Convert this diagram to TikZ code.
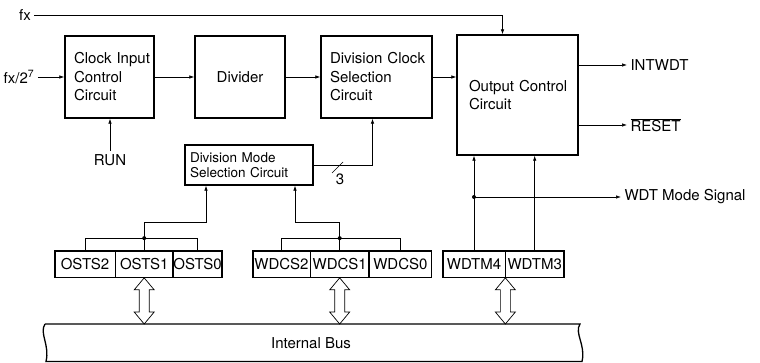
\documentclass[tikz,border=0pt]{standalone}
\usepackage{fontspec}
\setmainfont{TeX Gyre Heros}
\usetikzlibrary{positioning,calc,arrows.meta}
\hyphenpenalty=10000
\exhyphenpenalty=10000

% hollow double arrow between a register and the bus
\newcommand{\busarrow}[2]{%
  \draw[line width=0.7pt] let \p1=(#1), \p2=(#1 |- #2) in
    (\x1,\y1) -- (\x1+10pt,\y1-12pt) -- (\x1+5pt,\y1-12pt) -- (\x1+5pt,\y2+12pt)
    -- (\x1+10pt,\y2+12pt) -- (\x1,\y2) -- (\x1-10pt,\y2+12pt) -- (\x1-5pt,\y2+12pt)
    -- (\x1-5pt,\y1-12pt) -- (\x1-10pt,\y1-12pt) -- cycle;}

\begin{document}
\begin{tikzpicture}[x=1pt, y=-1pt,
  every node/.style={font=\fontsize{15}{18.5}\selectfont},
  blk/.style={draw, line width=1.3pt, inner sep=9pt, align=left, minimum height=82pt},
  cell/.style={draw, line width=0.7pt, minimum height=26pt, inner sep=0pt},
  sig/.style={line width=0.7pt, -{Latex[length=5pt,width=3.5pt]}},
  wire/.style={line width=0.7pt},
  dot/.style={circle, fill, inner sep=0pt, minimum size=4pt}]

\useasboundingbox (0,0) rectangle (760,363);

% blocks
\node[blk, text width=71pt] (clk) at (109.5,77) {Clock~Input\\Control\\Circuit};
\node[blk, minimum width=90pt, align=center] (div) at (240,77) {Divider};
\node[blk, text width=93pt] (dcs) at (376.5,77) {Division~Clock\\Selection\\Circuit};
\node[blk, text width=97pt, inner xsep=12pt, minimum height=120pt] (occ) at (517.5,95) {Output~Control\\Circuit};
\node[draw, line width=1.3pt, inner xsep=5pt, text width=118pt, minimum height=40pt, align=left,
  font=\fontsize{13.5}{15}\selectfont] (dms) at (249,165) {Division~Mode\\Selection~Circuit};

% inputs and outputs
\node (fx) at (25,15) {fx};
\node (fx7) at (19,77) {fx/2\textsuperscript{7}};
\node (run) at (110,160) {RUN};
\node[anchor=west] (intwdt) at (627,65) {INTWDT};
\node[anchor=west] (reset) at (627,125) {$\overline{\hbox{RESET}}$};
\node[anchor=west] (wms) at (621,197) {WDT Mode Signal};

\draw[sig] (fx) -| ([xshift=-15pt]occ.north);
\draw[sig] (fx7) -- (clk);
\draw[sig] (clk) -- (div);
\draw[sig] (div) -- (dcs);
\draw[sig] (dcs.east) -- (dcs.east -| occ.west);
\draw[sig] (run) -- (run |- clk.south);
\draw[sig] (occ.east |- intwdt) -- (intwdt);
\draw[sig] (occ.east |- reset) -- (reset);
\draw[sig] (dms.east) -| ([xshift=-4pt]dcs.south);
\coordinate (sl) at (338,167);
\draw[wire] ($(sl)+(-6,6)$) -- ($(sl)+(5,-5)$);
\node[inner sep=1pt] (three) at ($(sl)+(2,12)$) {3};

% registers
\node[cell, minimum width=60pt] (osts2) at (85,264.5) {OSTS2};
\node[cell, minimum width=57pt, right=0pt of osts2] (osts1) {OSTS1};
\node[cell, minimum width=48pt, right=0pt of osts1] (osts0) {OSTS0};
\draw[line width=1.3pt] (osts2.north west) rectangle (osts0.south east);

\node[cell, minimum width=57pt] (wdcs2) at (281.5,264.5) {WDCS2};
\node[cell, minimum width=58pt, right=0pt of wdcs2] (wdcs1) {WDCS1};
\node[cell, minimum width=62pt, right=0pt of wdcs1] (wdcs0) {WDCS0};
\draw[line width=1.3pt] (wdcs2.north west) rectangle (wdcs0.south east);

\node[cell, minimum width=62pt] (wdtm4) at (474,264.5) {WDTM4};
\node[cell, minimum width=58pt, right=0pt of wdtm4] (wdtm3) {WDTM3};
\draw[line width=1.3pt] (wdtm4.north west) rectangle (wdtm3.south east);

% register outputs
\coordinate (ob) at ($(osts1.north)+(0,-13)$);
\draw[wire] (osts2.north) |- (ob) -| (osts0.north);
\draw[wire] (osts1.north) -- (ob);
\node[dot] at (ob) {};
\draw[sig] (ob) -- ++(0,-16) -| ([xshift=-43pt]dms.south);

\coordinate (wb) at ($(wdcs1.north)+(0,-13)$);
\draw[wire] (wdcs2.north) |- (wb) -| (wdcs0.north);
\draw[wire] (wdcs1.north) -- (wb);
\node[dot] at (wb) {};
\draw[sig] (wb) -- ++(0,-16) -| ([xshift=46pt]dms.south);

\draw[sig] (wdtm4.north) -- (wdtm4.north |- occ.south);
\draw[sig] (wdtm3.north) -- (wdtm3.north |- occ.south);
\coordinate (mj) at (wdtm4.north |- wms);
\node[dot] at (mj) {};
\draw[sig] (mj) -- (wms);

% internal bus
\draw[line width=1.3pt] (45,324) -- (580,324) .. controls (574,333) and (586,345) .. (582,361.5)
  -- (46,361.5) .. controls (50,345) and (39,333) .. (45,324);
\node (bus) at (311,343) {Internal Bus};
\coordinate (bustop) at (311,324);
\busarrow{osts1.south}{bustop}
\busarrow{wdcs1.south}{bustop}
\busarrow{wdtm4.south east}{bustop}

\end{tikzpicture}
\end{document}
